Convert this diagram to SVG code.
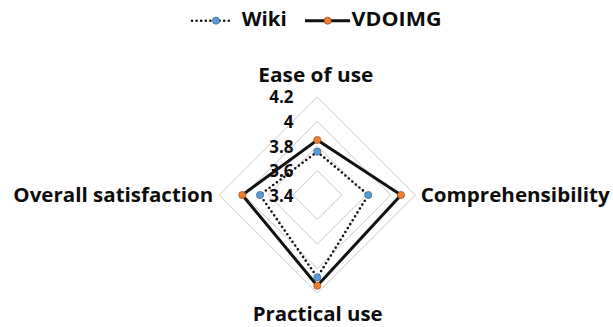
<svg xmlns="http://www.w3.org/2000/svg" width="613" height="327" viewBox="0 0 613 327">
<style>
.bg{fill:#ffffff}
.grid{fill:none;stroke:#c9c9c9;stroke-width:1}
.lab{font-family:"Open Sans","Noto Sans","Liberation Sans",sans-serif;font-weight:bold;fill:#0d0d0d}
.ax{font-size:20px}
.tick{font-size:17px;text-anchor:end}
.leg{font-size:19px}
.wiki{fill:none;stroke:#111;stroke-width:2.6;stroke-dasharray:0 4.6;stroke-linecap:round}
.vdo{fill:none;stroke:#111;stroke-width:3;stroke-linejoin:miter}
.mb{fill:#5b9bd5;stroke:#2f5d8a;stroke-width:0.6}
.mo{fill:#ed7d31;stroke:#8a3f10;stroke-width:0.6}
</style>
<rect class="bg" x="0" y="0" width="613" height="327"/>
<g id="legend">
  <line class="wiki" x1="192" y1="20.7" x2="233" y2="20.7"/>
  <circle class="mb" cx="216" cy="20.7" r="3.6"/>
  <text class="lab leg" x="241.7" y="25.5" textLength="45" lengthAdjust="spacingAndGlyphs">Wiki</text>
  <line class="vdo" x1="305" y1="20.7" x2="350" y2="20.7"/>
  <circle class="mo" cx="327.7" cy="20.7" r="3.6"/>
  <text class="lab leg" x="351.5" y="25.5" textLength="90" lengthAdjust="spacingAndGlyphs">VDOIMG</text>
</g>
<g id="grid">
  <polygon class="grid" points="317.3,170.5 341.8,195 317.3,219.5 292.8,195"/>
  <polygon class="grid" points="317.3,146 366.3,195 317.3,244 268.3,195"/>
  <polygon class="grid" points="317.3,121.5 390.8,195 317.3,268.5 243.8,195"/>
  <polygon class="grid" points="317.3,97 415.3,195 317.3,293 219.3,195"/>
</g>
<g id="axis-labels">
  <text class="lab tick" x="293.5" y="103">4.2</text>
  <text class="lab tick" x="293.5" y="127.5">4</text>
  <text class="lab tick" x="293.5" y="152.5">3.8</text>
  <text class="lab tick" x="293.5" y="177">3.6</text>
  <text class="lab tick" x="293.5" y="202">3.4</text>
</g>
<g id="node-ease"><text class="lab ax" x="258.3" y="81.7" textLength="115" lengthAdjust="spacingAndGlyphs">Ease of use</text></g>
<g id="node-comp"><text class="lab ax" x="420.7" y="201.7" textLength="189" lengthAdjust="spacingAndGlyphs">Comprehensibility</text></g>
<g id="node-practical"><text class="lab ax" x="252.7" y="321" textLength="130" lengthAdjust="spacingAndGlyphs">Practical use</text></g>
<g id="node-overall"><text class="lab ax" x="13.3" y="202.3" textLength="200" lengthAdjust="spacingAndGlyphs">Overall satisfaction</text></g>
<g id="connectors">
  <polygon class="wiki" points="317.3,151.7 368.3,195 317.3,277.3 260,195"/>
  <polygon class="vdo" points="317.3,140 401,195 317.3,285.7 242.3,195"/>
</g>
<g id="markers">
  <circle class="mb" cx="317.3" cy="151.7" r="3.6"/>
  <circle class="mb" cx="368.3" cy="195" r="3.6"/>
  <circle class="mb" cx="317.3" cy="277.3" r="3.6"/>
  <circle class="mb" cx="260" cy="195" r="3.6"/>
  <circle class="mo" cx="317.3" cy="140" r="3.6"/>
  <circle class="mo" cx="401" cy="195" r="3.6"/>
  <circle class="mo" cx="317.3" cy="285.7" r="3.6"/>
  <circle class="mo" cx="242.3" cy="195" r="3.6"/>
</g>
</svg>
